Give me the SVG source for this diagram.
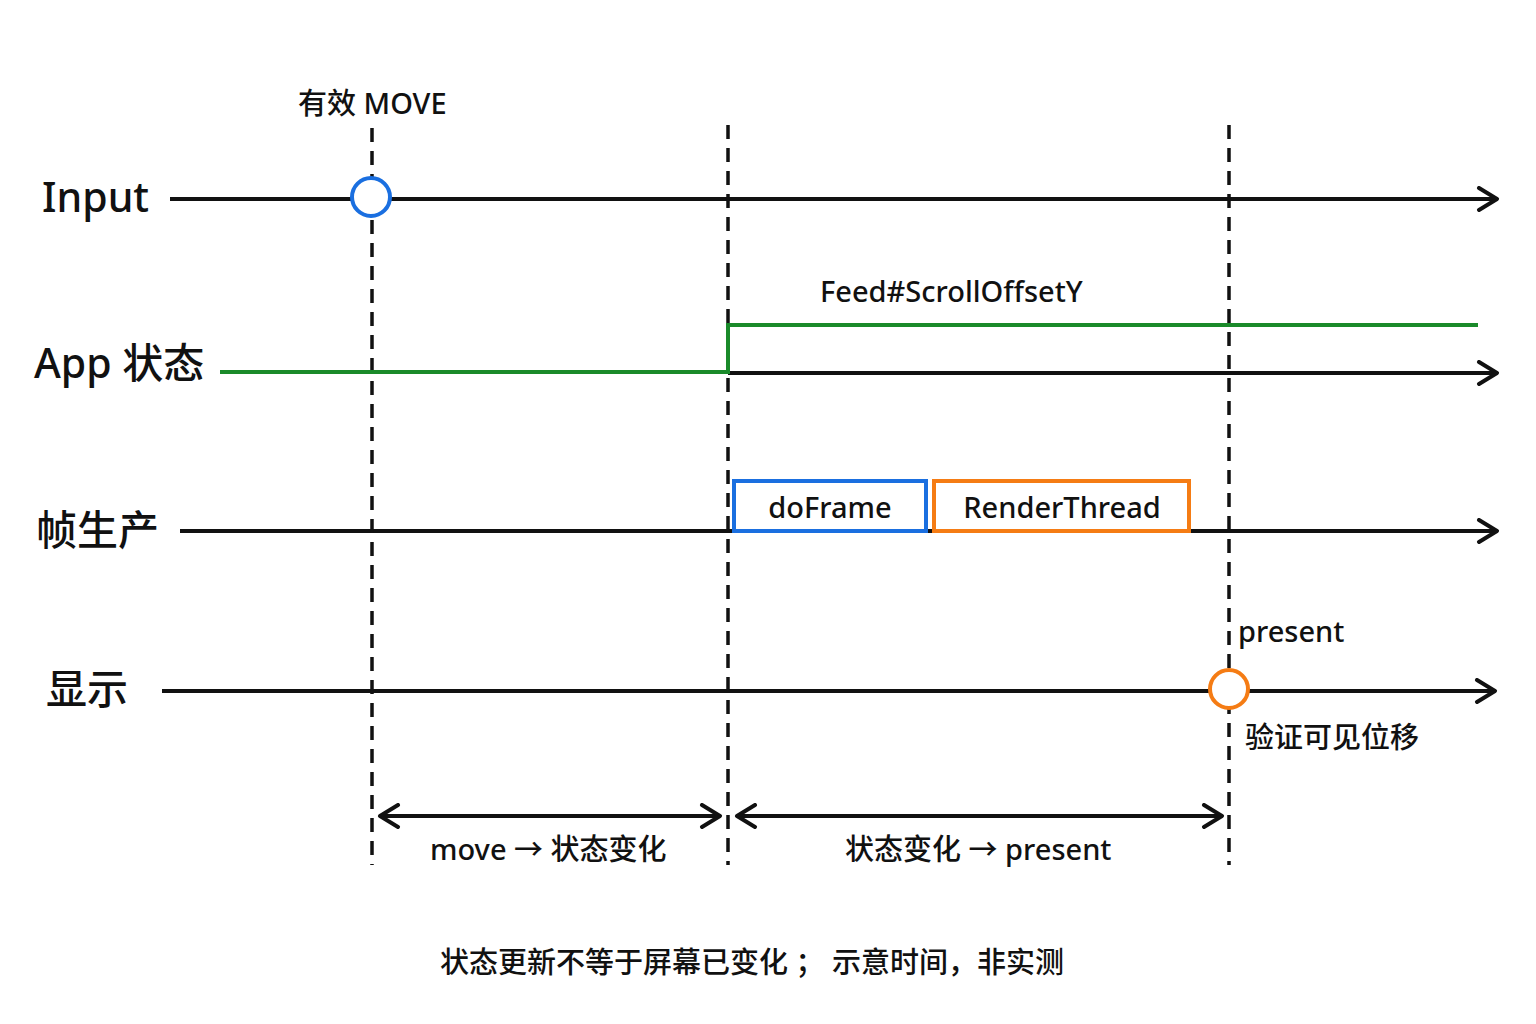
<svg xmlns="http://www.w3.org/2000/svg" width="1536" height="1024" viewBox="0 0 1536 1024">
<style>
text{font-family:"Noto Sans","Noto Sans CJK SC",sans-serif;fill:#111;font-weight:500}
.lbl{font-size:41px}
.sm{font-size:29px}
.ax{stroke:#111;stroke-width:4;fill:none}
.dash{stroke:#111;stroke-width:3.5;stroke-dasharray:14 9;fill:none}
</style>
<defs>
<marker id="big" markerWidth="24" markerHeight="26" refX="21" refY="13" orient="auto-start-reverse" markerUnits="userSpaceOnUse"><path d="M3 2 L21 13 L3 24" fill="none" stroke="#111" stroke-width="4" stroke-linecap="round" stroke-linejoin="round"/></marker>
</defs>
<rect width="1536" height="1024" fill="#fff"/>
<g id="connectors">
<line class="ax" x1="170" y1="199" x2="1497" y2="199" marker-end="url(#big)"/>
<line class="ax" x1="728" y1="373" x2="1497" y2="373" marker-end="url(#big)"/>
<line class="ax" x1="180" y1="531" x2="1497" y2="531" marker-end="url(#big)"/>
<line class="ax" x1="162" y1="691" x2="1495" y2="691" marker-end="url(#big)"/>
<line class="dash" x1="372" y1="128" x2="372" y2="865"/>
<line class="dash" x1="728" y1="125" x2="728" y2="865"/>
<line class="dash" x1="1229" y1="125" x2="1229" y2="865"/>
<line class="ax" x1="380" y1="816" x2="720" y2="816" marker-start="url(#big)" marker-end="url(#big)"/>
<line class="ax" x1="737" y1="816" x2="1222" y2="816" marker-start="url(#big)" marker-end="url(#big)"/>
<path d="M220 372 H728 V325 H1478" stroke="#1a8a2a" stroke-width="4" fill="none"/>
</g>
<g id="labels">
<text class="lbl" x="42" y="212">Input</text>
<text class="lbl" x="34" y="378">App 状态</text>
<text class="lbl" x="36" y="545">帧生产</text>
<text class="lbl" x="46" y="704">显示</text>
<text class="sm" x="298" y="114">有效 MOVE</text>
<text class="sm" x="820" y="302">Feed#ScrollOffsetY</text>
<text class="sm" x="1238" y="642">present</text>
<text class="sm" x="1245" y="748">验证可见位移</text>
<text class="sm" x="430" y="860">move → 状态变化</text>
<text class="sm" x="845" y="860">状态变化 → present</text>
<text class="sm" x="440" y="973">状态更新不等于屏幕已变化 ； 示意时间，非实测</text>
</g>
<g id="move"><circle cx="371" cy="197" r="19" fill="#fff" stroke="#1a6fe0" stroke-width="4"/></g>
<g id="present"><circle cx="1229" cy="689" r="19" fill="#fff" stroke="#f57c14" stroke-width="4"/></g>
<g id="doFrame"><rect x="734" y="481" width="192" height="50" fill="#fff" stroke="#1a6fe0" stroke-width="4"/><text class="sm" x="830" y="518" text-anchor="middle">doFrame</text></g>
<g id="RenderThread"><rect x="934" y="481" width="255" height="50" fill="#fff" stroke="#f57c14" stroke-width="4"/><text class="sm" x="1062" y="518" text-anchor="middle">RenderThread</text></g>
</svg>
